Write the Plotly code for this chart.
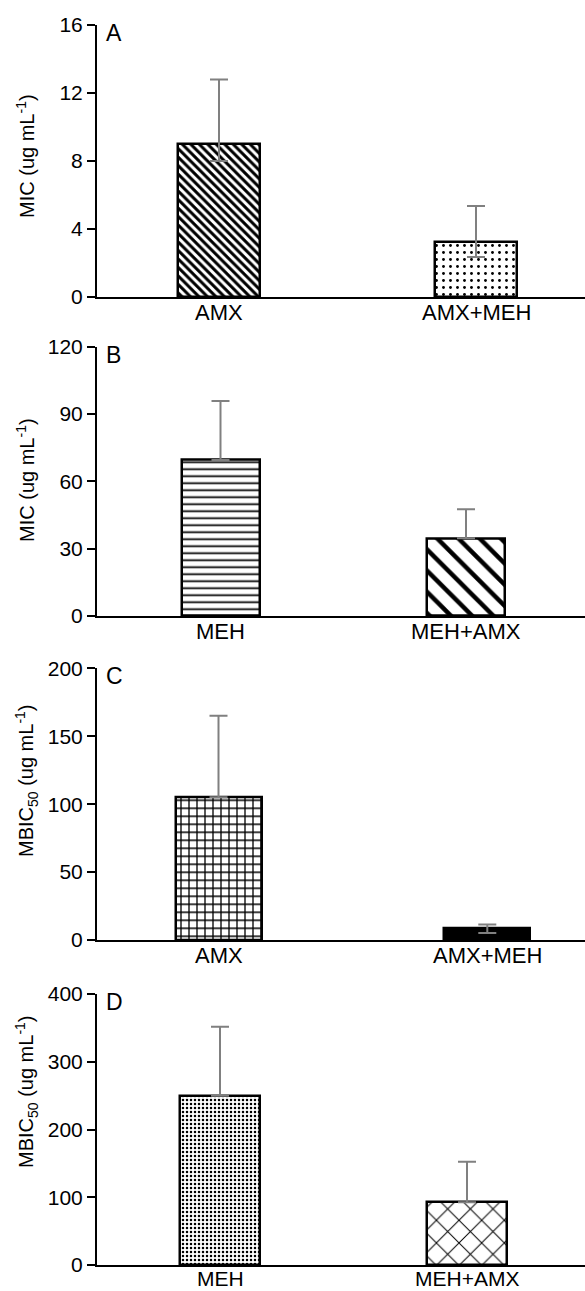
import plotly.graph_objects as go

# ---------------- data ----------------
a_categories = ["AMX", "AMX+MEH"]
a_mic = [9.0, 3.25]
a_err_plus = [3.8, 2.1]
a_err_minus = [1.0, 0.9]

b_categories = ["MEH", "MEH+AMX"]
b_mic = [69.5, 34.6]
b_err_plus = [26.3, 13.0]
b_err_minus = [0.0, 0.0]

c_categories = ["AMX", "AMX+MEH"]
c_mbic50 = [105.0, 8.6]
c_err_plus = [60.0, 2.9]
c_err_minus = [0.0, 3.4]

d_categories = ["MEH", "MEH+AMX"]
d_mbic50 = [250.0, 92.5]
d_err_plus = [101.7, 60.0]
d_err_minus = [0.0, 0.0]

y_max = [16, 120, 200, 400]
y_dtick = [4, 30, 50, 100]
panel_letters = ["A", "B", "C", "D"]
y_titles = ["MIC (ug mL<sup>-1</sup>)", "MIC (ug mL<sup>-1</sup>)",
            "MBIC<sub>50</sub> (ug mL<sup>-1</sup>)", "MBIC<sub>50</sub> (ug mL<sup>-1</sup>)"]

# ---------------- layout / style ----------------
W, H = 585, 1291
FONT = "Arial, Liberation Sans, Helvetica, sans-serif"
axis_left_px = 97
# (top px, bottom px, bar1 centre px, bar2 centre px, bar width px, title centre y px)
geom = [
    (25, 297, 219, 476, 82, 156),
    (346.7, 616, 220.5, 466, 78, 480),
    (668.3, 940, 218.5, 487.3, 86, 781),
    (994, 1265, 220, 467, 80, 1092),
]
patterns = [
    dict(shape=["\\", "."], size=[6, 7], solidity=[0.5, 0.13]),
    dict(shape=["-", "\\"], size=[7, 15], solidity=[0.25, 0.3]),
    dict(shape=["+", ""], size=[8, 8], solidity=[0.3, 0.3]),
    dict(shape=[".", "x"], size=[4, 16], solidity=[0.3, 0.12]),
]

data_sets = [
    (a_categories, a_mic, a_err_plus, a_err_minus),
    (b_categories, b_mic, b_err_plus, b_err_minus),
    (c_categories, c_mbic50, c_err_plus, c_err_minus),
    (d_categories, d_mbic50, d_err_plus, d_err_minus),
]
label_shift = [-1, -1, -1, 0]

fig = go.Figure()
annotations = []
for i, ((cats, vals, ep, em), (top, bot, c1, c2, wpx, ty), pat) in enumerate(zip(data_sets, geom, patterns)):
    k = "" if i == 0 else str(i + 1)
    unit = c2 - c1
    xpos = list(range(len(cats)))
    fig.add_trace(go.Bar(
        x=xpos, y=vals, width=wpx / unit,
        xaxis="x" + k, yaxis="y" + k,
        marker=dict(color="black", opacity=1, line=dict(color="black", width=2.5),
                    pattern=dict(shape=pat["shape"], size=pat["size"], solidity=pat["solidity"],
                                 fgcolor="black", bgcolor="white", fgopacity=1)),
        error_y=dict(type="data", symmetric=False, array=ep, arrayminus=em,
                     color="#808080", thickness=2, width=9),
        showlegend=False,
    ))
    xr = [(axis_left_px - c1) / unit, 1 + (W - c2) / unit]
    fig.layout["xaxis" + k] = dict(
        domain=[axis_left_px / W, 1], range=xr, anchor="y" + k, automargin=False,
        tickvals=xpos, ticktext=[""] * len(cats), ticks="", showgrid=False, zeroline=False,
        showline=True, linecolor="black", linewidth=2,
    )
    fig.layout["yaxis" + k] = dict(
        domain=[1 - bot / H, 1 - top / H], range=[0, y_max[i]], anchor="x" + k, automargin=False,
        dtick=y_dtick[i], tick0=0, ticks="outside", ticklen=8, tickwidth=2, tickcolor="black",
        showgrid=False, zeroline=False, showline=True, linecolor="black", linewidth=2,
        tickfont=dict(family=FONT, size=21, color="black"),
    )
    # category labels placed through the axis scales
    for xp, cat in zip(xpos, cats):
        annotations.append(dict(
            text=cat, xref="x" + k, yref="y" + k + " domain", x=xp, y=0,
            xanchor="center", yanchor="top", yshift=label_shift[i], showarrow=False,
            font=dict(family=FONT, size=22 if i < 3 else 21, color="black"),
        ))
    annotations.append(dict(
        text=y_titles[i], textangle=-90, xref="paper", yref="paper",
        x=26 / W, y=1 - ty / H, xanchor="center", yanchor="middle", showarrow=False,
        font=dict(family=FONT, size=20, color="black"),
    ))
    annotations.append(dict(
        text=panel_letters[i], xref="paper", yref="paper",
        x=104 / W, y=1 - (top - 7) / H, xanchor="left", yanchor="top", showarrow=False,
        font=dict(family=FONT, size=23, color="black"),
    ))

fig.update_layout(
    width=W, height=H, margin=dict(l=0, r=0, t=0, b=0, autoexpand=False),
    paper_bgcolor="white", plot_bgcolor="white",
    annotations=annotations, bargap=0,
)
fig.write_html("out.html", config={"displayModeBar": False},
               post_script="document.body.style.margin='0';document.body.style.padding='0';")
